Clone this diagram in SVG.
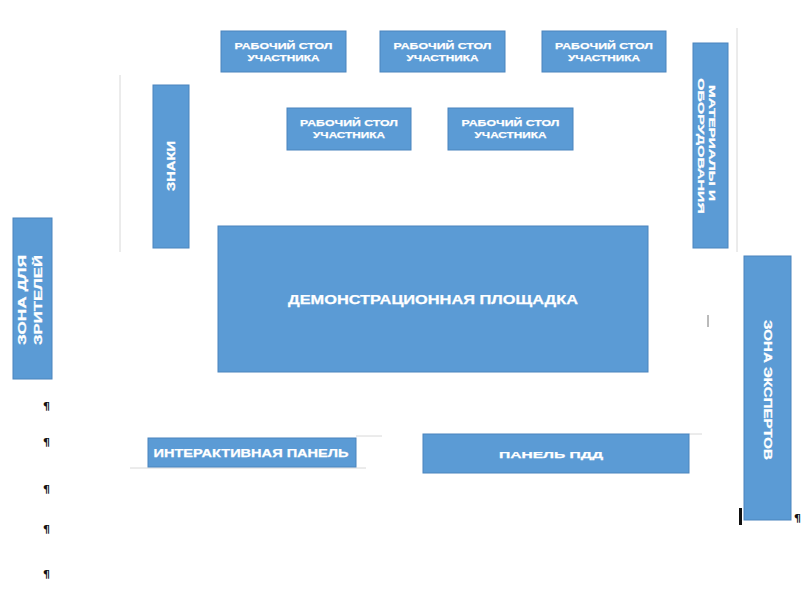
<svg xmlns="http://www.w3.org/2000/svg" width="802" height="591" viewBox="0 0 802 591">
<style>
.box{fill:#5b9bd5;stroke:#4a84bd;stroke-width:1}
.t{font-family:"Liberation Sans",Arial,sans-serif;font-weight:bold;fill:#ffffff;stroke:#ffffff;stroke-width:0.25;text-anchor:middle}
.s{font-size:9.5px}
.m{font-size:11px}
.l{font-size:13px}
.faint{stroke:#d8d8d8;stroke-width:1;fill:none}
.pil{font-family:"DejaVu Sans",sans-serif;font-weight:bold;font-size:11px;fill:#111111}
</style>
<rect width="802" height="591" fill="#ffffff"/>
<g id="guides">
<line class="faint" x1="120" y1="75" x2="120" y2="252"/>
<line class="faint" x1="737" y1="28" x2="737" y2="252"/>
<line class="faint" x1="356" y1="436" x2="382" y2="436"/>
<line class="faint" x1="130" y1="468" x2="366" y2="468"/>
<line class="faint" x1="689" y1="434" x2="702" y2="434"/>
<line x1="708" y1="315" x2="708" y2="327" stroke="#777" stroke-width="1"/>
<rect x="739" y="508" width="3" height="17" fill="#111"/>
</g>
<g id="desk1"><rect class="box" x="221" y="31" width="125" height="41"/>
<text class="t s" x="283.5" y="48.5" textLength="98" lengthAdjust="spacingAndGlyphs">РАБОЧИЙ СТОЛ</text>
<text class="t s" x="283.5" y="61" textLength="72" lengthAdjust="spacingAndGlyphs">УЧАСТНИКА</text></g>
<g id="desk2"><rect class="box" x="380" y="31" width="125" height="41"/>
<text class="t s" x="442.5" y="48.5" textLength="98" lengthAdjust="spacingAndGlyphs">РАБОЧИЙ СТОЛ</text>
<text class="t s" x="442.5" y="61" textLength="72" lengthAdjust="spacingAndGlyphs">УЧАСТНИКА</text></g>
<g id="desk3"><rect class="box" x="542" y="31" width="124" height="41"/>
<text class="t s" x="604" y="48.5" textLength="98" lengthAdjust="spacingAndGlyphs">РАБОЧИЙ СТОЛ</text>
<text class="t s" x="604" y="61" textLength="72" lengthAdjust="spacingAndGlyphs">УЧАСТНИКА</text></g>
<g id="desk4"><rect class="box" x="287" y="108" width="124" height="42"/>
<text class="t s" x="349" y="125.5" textLength="98" lengthAdjust="spacingAndGlyphs">РАБОЧИЙ СТОЛ</text>
<text class="t s" x="349" y="138" textLength="72" lengthAdjust="spacingAndGlyphs">УЧАСТНИКА</text></g>
<g id="desk5"><rect class="box" x="448" y="108" width="125" height="42"/>
<text class="t s" x="510.5" y="125.5" textLength="98" lengthAdjust="spacingAndGlyphs">РАБОЧИЙ СТОЛ</text>
<text class="t s" x="510.5" y="138" textLength="72" lengthAdjust="spacingAndGlyphs">УЧАСТНИКА</text></g>
<g id="znaki"><rect class="box" x="153" y="85" width="36" height="163"/>
<text class="t m" transform="translate(175,166) rotate(-90)" textLength="50" lengthAdjust="spacingAndGlyphs">ЗНАКИ</text></g>
<g id="materials"><rect class="box" x="693" y="43" width="35" height="205"/>
<text class="t s" transform="translate(708.5,143) rotate(90)" textLength="116" lengthAdjust="spacingAndGlyphs">МАТЕРИАЛЫ И</text>
<text class="t s" transform="translate(697.5,146) rotate(90)" textLength="136" lengthAdjust="spacingAndGlyphs">ОБОРУДОВАНИЯ</text></g>
<g id="viewers"><rect class="box" x="13" y="218" width="39" height="161"/>
<text class="t m" transform="translate(26,300) rotate(-90)" textLength="90" lengthAdjust="spacingAndGlyphs">ЗОНА ДЛЯ</text>
<text class="t m" transform="translate(42,300) rotate(-90)" textLength="90" lengthAdjust="spacingAndGlyphs">ЗРИТЕЛЕЙ</text></g>
<g id="demo"><rect class="box" x="218" y="226" width="430" height="146"/>
<text class="t l" x="433" y="303.5" textLength="290" lengthAdjust="spacingAndGlyphs">ДЕМОНСТРАЦИОННАЯ ПЛОЩАДКА</text></g>
<g id="experts"><rect class="box" x="744" y="256" width="47" height="264"/>
<text class="t m" transform="translate(764,390) rotate(90)" textLength="140" lengthAdjust="spacingAndGlyphs">ЗОНА ЭКСПЕРТОВ</text></g>
<g id="interactive"><rect class="box" x="148" y="438" width="208" height="29"/>
<text class="t m" x="251" y="456.5" textLength="195" lengthAdjust="spacingAndGlyphs">ИНТЕРАКТИВНАЯ ПАНЕЛЬ</text></g>
<g id="pdd"><rect class="box" x="423" y="434" width="266" height="39"/>
<text class="t s" x="551" y="457.5" textLength="104" lengthAdjust="spacingAndGlyphs">ПАНЕЛЬ ПДД</text></g>
<g id="marks">
<text class="pil" x="43" y="410">¶</text>
<text class="pil" x="43" y="446">¶</text>
<text class="pil" x="43" y="493">¶</text>
<text class="pil" x="43" y="533">¶</text>
<text class="pil" x="43" y="578">¶</text>
<text class="pil" x="794" y="522">¶</text>
</g>
<g id="connectors"></g>
</svg>
